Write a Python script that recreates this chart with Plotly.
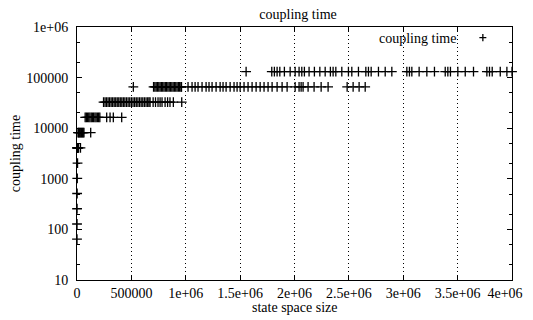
import plotly.graph_objects as go

# coupling time levels (powers of two) and the state space sizes seen at each level
levels = [64, 128, 256, 512, 1024, 2048, 4096, 8192, 16384, 32768, 65536, 131072]

x_64 = [100]
x_128 = [300]
x_256 = [600]
x_512 = [1200]
x_1024 = [2500]
x_2048 = [5000]
x_4096 = [500, 2000, 4000, 6000, 9000, 14000, 32000]
x_8192 = [9000, 15000, 21000, 28000, 35000, 42000, 50000, 57000, 64000, 126000]
x_16384 = [75000, 86000, 97000, 108000, 119000, 131000, 142000, 153000, 165000,
           176000, 188000, 199000, 210000, 273000, 304000, 334000, 411000]
x_32768 = [244000, 258000, 272000, 286000, 300000, 314000, 328000, 342000, 356000,
           370000, 384000, 398000, 412000, 426000, 440000, 455000, 470000, 485000,
           500000, 515000, 530000, 545000, 560000, 575000, 590000, 605000, 620000,
           635000, 650000, 662000, 672000, 700000, 722000, 745000, 764000, 782000,
           810000, 833000, 855000, 886000, 963000]
x_65536 = [518000, 704000, 716000, 728000, 740000, 752000, 764000, 776000, 788000,
           800000, 812000, 824000, 836000, 848000, 860000, 872000, 884000, 896000,
           908000, 920000, 932000, 944000, 956000, 961000,
           1021000, 1058000, 1086000, 1113000, 1150000, 1187000, 1214000, 1242000,
           1279000, 1316000, 1343000, 1371000, 1408000, 1444000, 1472000, 1500000,
           1536000, 1573000, 1610000, 1647000, 1684000, 1720000, 1757000, 1794000,
           1840000, 1886000, 1932000, 2006000, 2042000, 2061000, 2079000, 2125000,
           2180000, 2245000, 2309000, 2484000, 2539000, 2594000, 2650000]
x_131072 = [1555000, 1791000, 1815000, 1840000, 1865000, 1907000, 1960000, 2006000,
            2042000, 2067000, 2091000, 2134000, 2183000, 2233000, 2282000, 2330000,
            2355000, 2380000, 2435000, 2496000, 2527000, 2588000, 2656000, 2680000,
            2705000, 2772000, 2834000, 2895000, 3033000, 3057000, 3079000, 3146000,
            3217000, 3287000, 3386000, 3410000, 3434000, 3502000, 3570000, 3646000,
            3769000, 3793000, 3818000, 3892000, 3953000, 4000000]

bands = [x_64, x_128, x_256, x_512, x_1024, x_2048, x_4096, x_8192,
         x_16384, x_32768, x_65536, x_131072]

x_ticks = [0, 500000, 1000000, 1500000, 2000000, 2500000, 3000000, 3500000, 4000000]
# last label padded so it is not cut by the right edge of the page
x_ticktext = ["0", "500000", "1e+06", "1.5e+06", "2e+06", "2.5e+06", "3e+06", "3.5e+06",
              "4e+06&nbsp;&nbsp;&nbsp;&nbsp;"]
y_ticks = [10, 100, 1000, 10000, 100000, 1000000]
y_ticktext = ["10", "100", "1000", "10000", "100000", "1e+06"]
y_minor = [20, 50, 200, 500, 2000, 5000, 20000, 50000, 200000, 500000]

xs, ys = [], []
for lvl, band in zip(levels, bands):
    xs += band
    ys += [lvl] * len(band)

font = dict(family="Liberation Serif, Times New Roman, serif", size=14, color="black")

fig = go.Figure()
fig.add_trace(go.Scatter(
    x=xs, y=ys, mode="markers", name="coupling time",
    marker=dict(symbol="cross-thin", size=7, color="black",
                line=dict(width=1.3, color="black")),
    cliponaxis=False, showlegend=False,
))

axis_common = dict(showline=True, linecolor="black", linewidth=1, mirror="ticks",
                   ticks="inside", ticklen=5, tickcolor="black", zeroline=False,
                   tickfont=font, automargin=False)

fig.update_xaxes(
    range=[0, 4000000], tickvals=x_ticks, ticktext=x_ticktext,
    showgrid=True, gridcolor="black", griddash="1px,3px", gridwidth=1,
    ticklabelstandoff=0, ticklabeloverflow="allow",
    **axis_common,
)
fig.update_yaxes(
    type="log", range=[1, 6], tickvals=y_ticks, ticktext=y_ticktext,
    showgrid=False,
    minor=dict(tickvals=y_minor, ticks="inside", ticklen=3, tickcolor="black"),
    title=dict(text="coupling time", font=font, standoff=10),
    ticklabelstandoff=5,
    **axis_common,
)

# x axis title placed just under the tick labels, as gnuplot does
fig.add_annotation(text="state space size", xref="paper", yref="paper",
                   x=0.5, y=-0.107, xanchor="center", yanchor="middle",
                   showarrow=False, font=font)

# gnuplot-style key: label on the left, sample on the right
fig.add_annotation(text="coupling time", xref="paper", yref="paper",
                   x=0.876, y=0.953, xanchor="right", yanchor="middle",
                   showarrow=False, font=font)
fig.add_shape(type="path", xref="paper", yref="paper",
              path="M 0.925 0.958 L 0.941 0.958 M 0.933 0.944 L 0.933 0.972",
              line=dict(color="black", width=1.3))

# the page adds an 8px body margin, so the figure is offset inside the window
fig.update_layout(
    width=525, height=312,
    margin=dict(l=69, r=21, t=19, b=40),
    title=dict(text="coupling time", font=font, x=0.5525, xanchor="center",
               yref="container", y=0.995, yanchor="top", pad=dict(t=0)),
    plot_bgcolor="white", paper_bgcolor="white",
    font=font,
)

fig.write_html("out.html")
